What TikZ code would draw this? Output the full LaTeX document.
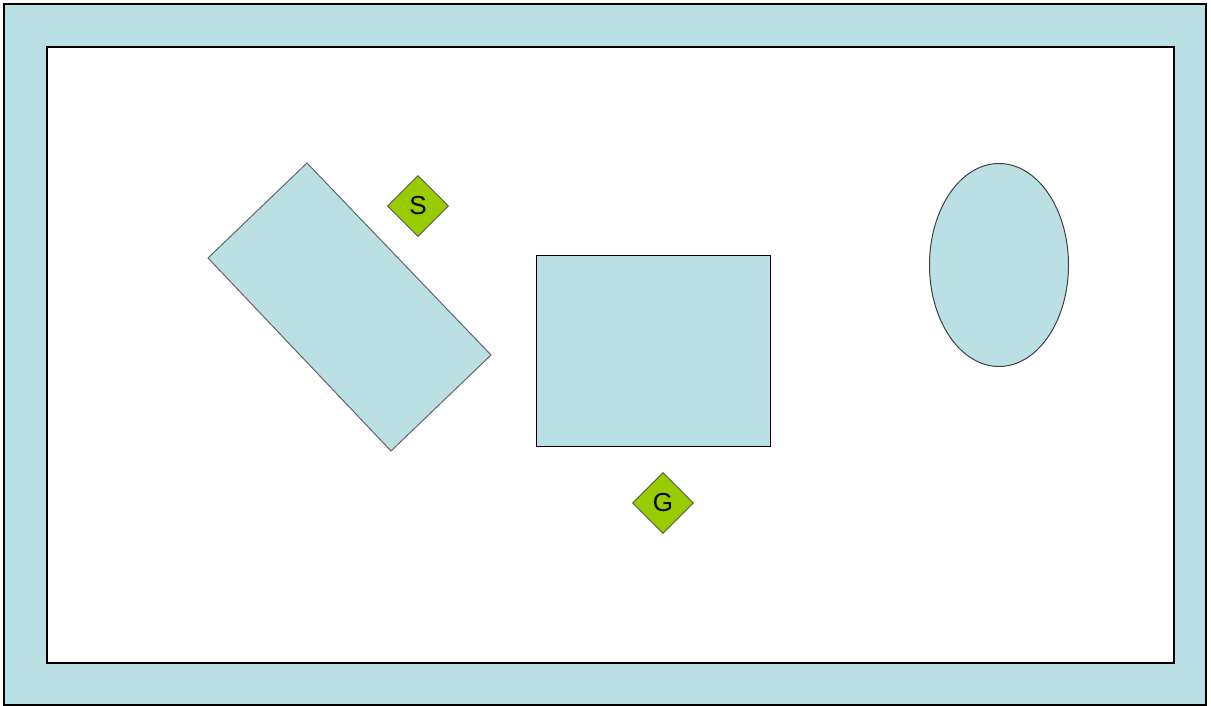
\documentclass[tikz,border=0pt]{standalone}
\usepackage{fontspec}
\setmainfont{Liberation Sans}
\usetikzlibrary{shapes.geometric}
\definecolor{lblue}{HTML}{BBE0E3}
\definecolor{lgreen}{HTML}{99CC00}
\definecolor{edge}{HTML}{3F3F3F}
\begin{document}
\begin{tikzpicture}[x=1pt,y=-1pt,
  obst/.style={fill=lblue,draw=edge,line width=1pt},
  marker/.style={diamond,fill=lgreen,draw=edge,line width=0.8pt,minimum width=61pt,minimum height=61pt,inner sep=0pt,font=\fontsize{26}{26}\selectfont}]
\useasboundingbox (0,0) rectangle (1211,706);
% outer border
\path[fill=lblue,draw=black,line width=1.6pt] (4,4) rectangle (1206,705);
\path[fill=white,draw=black,line width=1.4pt] (47,47) rectangle (1174,663);
% rotated rectangle
\path[obst,draw=edge!80] (307,163) -- (491,355) -- (391,451) -- (208,258) -- cycle;
% square
\node[obst,draw=black,rectangle,minimum width=234pt,minimum height=191pt,inner sep=0pt] (box) at (653,350.5) {};
% ellipse
\node[obst,ellipse,minimum width=139pt,minimum height=203pt,inner sep=0pt] (ell) at (999,265) {};
% markers
\node[marker] (S) at (418,206) {S};
\node[marker] (G) at (663,503) {G};
\end{tikzpicture}
\end{document}
